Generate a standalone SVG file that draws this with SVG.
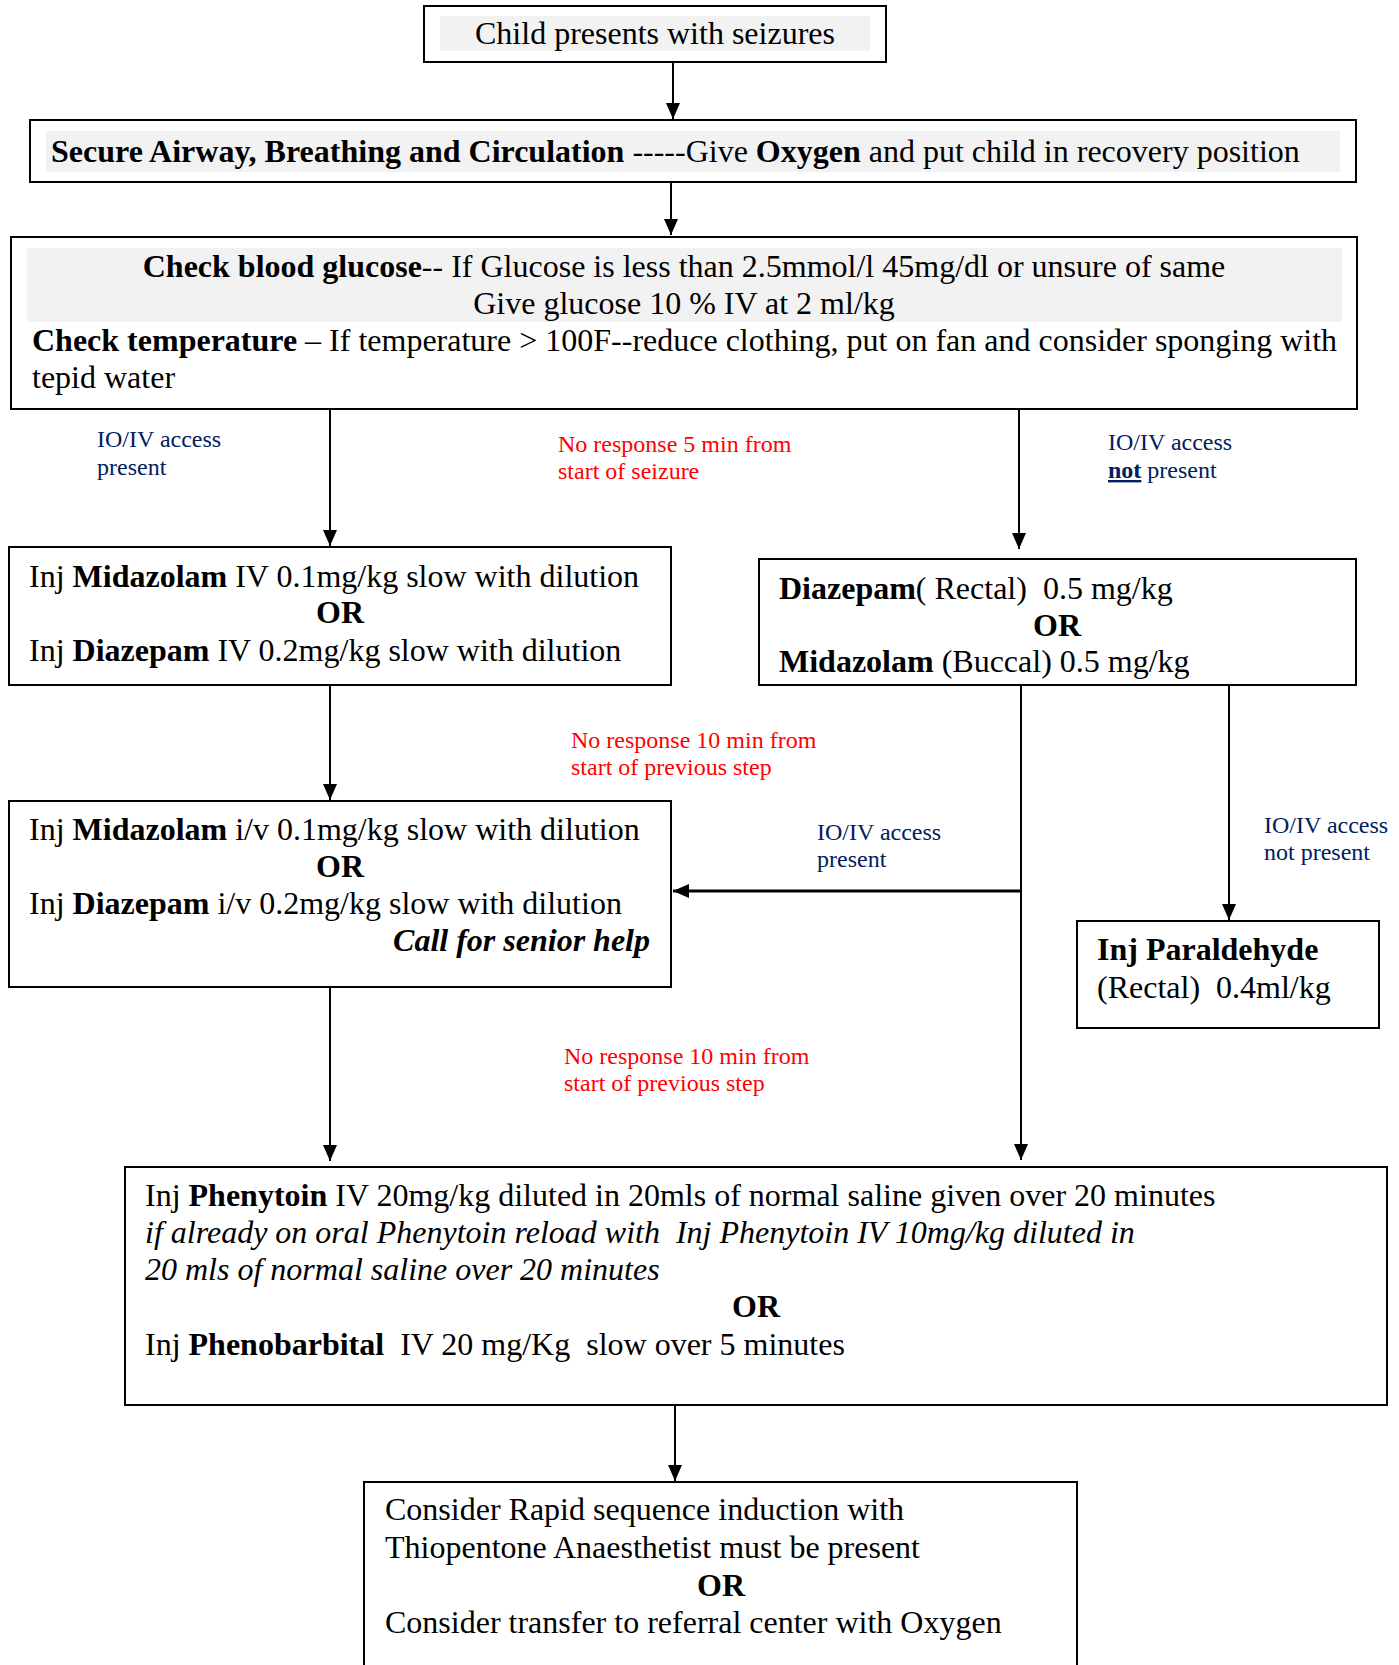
<svg xmlns="http://www.w3.org/2000/svg" width="1399" height="1665" viewBox="0 0 1399 1665">
<style>
.box{fill:#fff;stroke:#000;stroke-width:2}
.bg{fill:#f2f2f2}
.t{font-family:"Liberation Serif","Times New Roman",serif;font-size:32px;fill:#000}
.b{font-weight:bold}
.i{font-style:italic}
.lb{font-family:"Liberation Serif","Times New Roman",serif;font-size:24px;fill:#002060}
.rd{font-family:"Liberation Serif","Times New Roman",serif;font-size:24px;fill:#ff0000}
.c{fill:none;stroke:#000;stroke-width:2}
</style>
<defs>
<marker id="ah" viewBox="0 0 16 16" refX="16" refY="8" markerWidth="16" markerHeight="16" markerUnits="userSpaceOnUse" orient="auto">
<path d="M0,1 L16,8 L0,15 z" fill="#000"/>
</marker>
</defs>
<rect width="1399" height="1665" fill="#fff"/>

<g id="connectors">
<path class="c" d="M673,62 V119" marker-end="url(#ah)"/>
<path class="c" d="M671,182 V235" marker-end="url(#ah)"/>
<path class="c" d="M330,404 V546" marker-end="url(#ah)"/>
<path class="c" d="M1019,404 V549" marker-end="url(#ah)"/>
<path class="c" d="M330,685 V800" marker-end="url(#ah)"/>
<path class="c" d="M330,987 V1161" marker-end="url(#ah)"/>
<path class="c" d="M1021,685 V1160" marker-end="url(#ah)"/>
<path class="c" d="M1021,891 H673" style="stroke-width:3" marker-end="url(#ah)"/>
<path class="c" d="M1229,685 V920" marker-end="url(#ah)"/>
<path class="c" d="M675,1405 V1481" marker-end="url(#ah)"/>
</g>

<g id="n1">
<rect class="box" x="424" y="6" width="462" height="56"/>
<rect class="bg" x="440" y="16" width="430" height="35"/>
<text class="t" x="475" y="44">Child presents with seizures</text>
</g>

<g id="n2">
<rect class="box" x="30" y="120" width="1326" height="62"/>
<rect class="bg" x="46" y="131" width="1294" height="41"/>
<text class="t" x="51" y="162" xml:space="preserve"><tspan class="b">Secure Airway, Breathing and Circulation</tspan> -----Give <tspan class="b">Oxygen</tspan> and put child in recovery position</text>
</g>

<g id="n3">
<rect class="box" x="11" y="237" width="1346" height="172"/>
<rect class="bg" x="27" y="248" width="1315" height="74"/>
<text class="t" x="684" y="277" text-anchor="middle"><tspan class="b">Check blood glucose</tspan>-- If Glucose is less than 2.5mmol/l 45mg/dl or unsure of same</text>
<text class="t" x="684" y="314" text-anchor="middle">Give glucose 10 % IV at 2 ml/kg</text>
<text class="t" x="32" y="351"><tspan class="b">Check temperature</tspan> – If temperature &gt; 100F--reduce clothing, put on fan and consider sponging with</text>
<text class="t" x="32" y="388">tepid water</text>
</g>

<g id="lbl1">
<text class="lb" x="97" y="447">IO/IV access</text>
<text class="lb" x="97" y="475">present</text>
</g>
<g id="lbl2">
<text class="rd" x="558" y="452">No response 5 min from</text>
<text class="rd" x="558" y="479">start of seizure</text>
</g>
<g id="lbl3">
<text class="lb" x="1108" y="450">IO/IV access</text>
<text class="lb" x="1108" y="478" xml:space="preserve"><tspan font-weight="bold" text-decoration="underline">not</tspan> present</text>
</g>

<g id="n4">
<rect class="box" x="9" y="547" width="662" height="138"/>
<text class="t" x="29" y="587"><tspan>Inj </tspan><tspan class="b">Midazolam</tspan><tspan> IV 0.1mg/kg slow with dilution</tspan></text>
<text class="t b" x="340" y="623" text-anchor="middle">OR</text>
<text class="t" x="29" y="661"><tspan>Inj </tspan><tspan class="b">Diazepam</tspan><tspan> IV 0.2mg/kg slow with dilution</tspan></text>
</g>

<g id="n5">
<rect class="box" x="759" y="559" width="597" height="126"/>
<text class="t" x="779" y="599" xml:space="preserve"><tspan class="b">Diazepam</tspan>( Rectal)  0.5 mg/kg</text>
<text class="t b" x="1057" y="636" text-anchor="middle">OR</text>
<text class="t" x="779" y="672" xml:space="preserve"><tspan class="b">Midazolam</tspan> (Buccal) 0.5 mg/kg</text>
</g>

<g id="lbl4">
<text class="rd" x="571" y="748">No response 10 min from</text>
<text class="rd" x="571" y="775">start of previous step</text>
</g>

<g id="n6">
<rect class="box" x="9" y="801" width="662" height="186"/>
<text class="t" x="29" y="840"><tspan>Inj </tspan><tspan class="b">Midazolam</tspan><tspan> i/v 0.1mg/kg slow with dilution</tspan></text>
<text class="t b" x="340" y="877" text-anchor="middle">OR</text>
<text class="t" x="29" y="914"><tspan>Inj </tspan><tspan class="b">Diazepam</tspan><tspan> i/v 0.2mg/kg slow with dilution</tspan></text>
<text class="t b i" x="650" y="951" text-anchor="end">Call for senior help</text>
</g>

<g id="lbl5">
<text class="lb" x="817" y="840">IO/IV access</text>
<text class="lb" x="817" y="867">present</text>
</g>
<g id="lbl6">
<text class="lb" x="1264" y="833">IO/IV access</text>
<text class="lb" x="1264" y="860">not present</text>
</g>

<g id="n7">
<rect class="box" x="1077" y="921" width="302" height="107"/>
<text class="t b" x="1097" y="960">Inj Paraldehyde</text>
<text class="t" x="1097" y="998" xml:space="preserve">(Rectal)  0.4ml/kg</text>
</g>

<g id="lbl7">
<text class="rd" x="564" y="1064">No response 10 min from</text>
<text class="rd" x="564" y="1091">start of previous step</text>
</g>

<g id="n8">
<rect class="box" x="125" y="1167" width="1262" height="238"/>
<text class="t" x="145" y="1206"><tspan>Inj </tspan><tspan class="b">Phenytoin</tspan><tspan> IV 20mg/kg diluted in 20mls of normal saline given over 20 minutes</tspan></text>
<text class="t i" x="145" y="1243" xml:space="preserve">if already on oral Phenytoin reload with  Inj Phenytoin IV 10mg/kg diluted in</text>
<text class="t i" x="145" y="1280">20 mls of normal saline over 20 minutes</text>
<text class="t b" x="756" y="1317" text-anchor="middle">OR</text>
<text class="t" x="145" y="1355" xml:space="preserve">Inj <tspan class="b">Phenobarbital</tspan>  IV 20 mg/Kg  slow over 5 minutes</text>
</g>

<g id="n9">
<rect class="box" x="364" y="1482" width="713" height="240"/>
<text class="t" x="385" y="1520">Consider Rapid sequence induction with</text>
<text class="t" x="385" y="1558">Thiopentone Anaesthetist must be present</text>
<text class="t b" x="721" y="1596" text-anchor="middle">OR</text>
<text class="t" x="385" y="1633">Consider transfer to referral center with Oxygen</text>
</g>
</svg>
